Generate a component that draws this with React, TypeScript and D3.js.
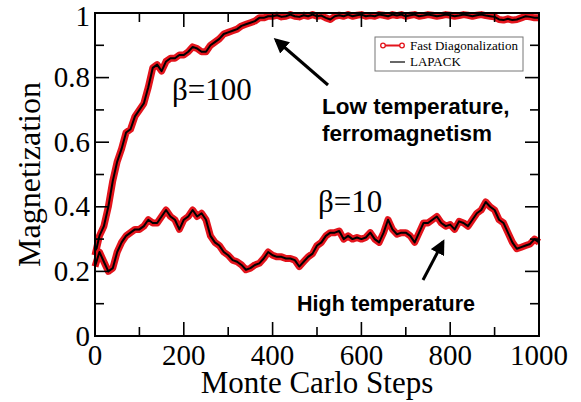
import React from 'react';
import * as d3 from 'd3';

// Monte Carlo steps (sampled every 10 steps)
const steps: number[] = d3.range(0, 1001, 10);

// beta = 100 (low temperature) magnetization
const beta100: number[] = [
  0.25, 0.31, 0.34, 0.40, 0.48, 0.54, 0.58, 0.63, 0.64, 0.68,
  0.70, 0.72, 0.77, 0.83, 0.84, 0.82, 0.85, 0.86, 0.86, 0.87,
  0.87, 0.88, 0.895, 0.89, 0.88, 0.88, 0.90, 0.91, 0.92, 0.935,
  0.94, 0.945, 0.95, 0.96, 0.965, 0.97, 0.975, 0.985, 0.985, 0.99,
  0.99, 0.993, 0.988, 0.99, 0.995, 0.99, 0.988, 0.993, 0.99, 0.995,
  0.99, 0.992, 0.985, 0.98, 0.99, 0.993, 0.99, 0.995, 0.99, 0.993,
  0.995, 0.99, 0.992, 0.99, 0.995, 0.993, 0.99, 0.995, 0.992, 0.995,
  0.99, 0.993, 0.995, 0.99, 0.992, 0.995, 0.993, 0.99, 0.992, 0.995,
  0.993, 0.99, 0.992, 0.995, 0.993, 0.99, 0.993, 0.995, 0.992, 0.99,
  0.988, 0.98, 0.978, 0.982, 0.978, 0.98, 0.985, 0.99, 0.988, 0.985,
  0.985,
];

// beta = 10 (high temperature) magnetization
const beta10: number[] = [
  0.215, 0.26, 0.23, 0.20, 0.21, 0.26, 0.29, 0.31, 0.32, 0.33,
  0.33, 0.34, 0.36, 0.35, 0.35, 0.37, 0.39, 0.37, 0.36, 0.33,
  0.36, 0.37, 0.39, 0.37, 0.38, 0.36, 0.31, 0.29, 0.28, 0.26,
  0.25, 0.235, 0.23, 0.22, 0.205, 0.21, 0.22, 0.225, 0.24, 0.26,
  0.25, 0.245, 0.245, 0.24, 0.24, 0.235, 0.215, 0.23, 0.245, 0.255,
  0.28, 0.29, 0.31, 0.32, 0.32, 0.325, 0.30, 0.31, 0.30, 0.305,
  0.30, 0.305, 0.32, 0.30, 0.29, 0.32, 0.36, 0.33, 0.315, 0.32,
  0.32, 0.31, 0.29, 0.32, 0.35, 0.35, 0.36, 0.37, 0.35, 0.34,
  0.345, 0.33, 0.355, 0.35, 0.34, 0.36, 0.38, 0.39, 0.415, 0.40,
  0.39, 0.36, 0.35, 0.32, 0.29, 0.27, 0.275, 0.28, 0.285, 0.30,
  0.29,
];

const xTickLabels = ['0', '200', '400', '600', '800', '1000'];
const yTickLabels = ['0', '0.2', '0.4', '0.6', '0.8', '1'];
const legendLabels = ['Fast Diagonalization', 'LAPACK'];

const W = 581;
const H = 402;
const serif = 'Liberation Serif, Times New Roman, serif';
const sans = 'Liberation Sans, Arial, sans-serif';

export default function App() {
  const x = d3.scaleLinear().domain([0, 1000]).range([95, 539]);
  const y = d3.scaleLinear().domain([0, 1]).range([336, 13]);
  const line = d3
    .line<number>()
    .x((_, i) => x(steps[i]))
    .y((d) => y(d));

  const xTicks = x.ticks(10);
  const yTicks = y.ticks(10);
  const major = 14;
  const minor = 9;

  const series = [beta100, beta10];

  return (
    <div style={{ position: 'fixed', left: 0, top: 0 }}>
      <svg width={W} height={H} style={{ display: 'block', background: '#fff' }}>
        <defs>
          <marker id="ah" viewBox="0 0 10 10" refX="8" refY="5" markerWidth="5" markerHeight="5" orient="auto">
            <path d="M0,0 L10,5 L0,10 z" fill="#000" />
          </marker>
        </defs>
        {/* data */}
        {series.map((s, k) => (
          <g key={k}>
            <path d={line(s) || ''} fill="none" stroke="#e3141c" strokeWidth={7} strokeLinejoin="round" />
            <path d={line(s) || ''} fill="none" stroke="#000" strokeWidth={2} strokeLinejoin="round" />
          </g>
        ))}
        {/* frame */}
        <rect x={x(0)} y={y(1)} width={x(1000) - x(0)} height={y(0) - y(1)} fill="none" stroke="#000" strokeWidth={2} />
        {/* ticks */}
        {xTicks.map((t, i) => {
          const len = i % 2 === 0 ? major : minor;
          return (
            <g key={'xt' + t}>
              <line x1={x(t)} x2={x(t)} y1={y(0)} y2={y(0) - len} stroke="#000" strokeWidth={1.6} />
              <line x1={x(t)} x2={x(t)} y1={y(1)} y2={y(1) + len} stroke="#000" strokeWidth={1.6} />
            </g>
          );
        })}
        {yTicks.map((t, i) => {
          const len = i % 2 === 0 ? major : minor;
          return (
            <g key={'yt' + t}>
              <line x1={x(0)} x2={x(0) + len} y1={y(t)} y2={y(t)} stroke="#000" strokeWidth={1.6} />
              <line x1={x(1000)} x2={x(1000) - len} y1={y(t)} y2={y(t)} stroke="#000" strokeWidth={1.6} />
            </g>
          );
        })}
        {/* tick labels */}
        {xTickLabels.map((lab) => (
          <text key={'xl' + lab} x={x(+lab)} y={365} textAnchor="middle" fontFamily={serif} fontSize={29}>
            {lab}
          </text>
        ))}
        {yTickLabels.map((lab) => (
          <text key={'yl' + lab} x={90} y={Math.max(y(+lab), 16)} dy="0.33em" textAnchor="end" fontFamily={serif} fontSize={29}>
            {lab}
          </text>
        ))}
        {/* axis titles */}
        <text x={(x(0) + x(1000)) / 2} y={393} textAnchor="middle" fontFamily={serif} fontSize={31}>
          Monte Carlo Steps
        </text>
        <text transform={`translate(40,${(y(0) + y(1)) / 2}) rotate(-90)`} textAnchor="middle" fontFamily={serif} fontSize={32}>
          Magnetization
        </text>
        {/* legend */}
        <rect x={375} y={37} width={148} height={34} fill="#fff" stroke="#777" strokeWidth={1} />
        <line x1={382} x2={403} y1={45.5} y2={45.5} stroke="#e3141c" strokeWidth={2} />
        <circle cx={383} cy={45.5} r={2.3} fill="#fff" stroke="#e3141c" strokeWidth={1.3} />
        <circle cx={402} cy={45.5} r={2.3} fill="#fff" stroke="#e3141c" strokeWidth={1.3} />
        <text x={410} y={50} fontFamily={serif} fontSize={13}>{legendLabels[0]}</text>
        <line x1={390} x2={405} y1={62} y2={62} stroke="#000" strokeWidth={1.2} />
        <text x={410} y={66} fontFamily={serif} fontSize={13}>{legendLabels[1]}</text>
        {/* annotations */}
        <text x={172} y={100} fontFamily={serif} fontSize={31}>β=100</text>
        <text x={318} y={212} fontFamily={serif} fontSize={31}>β=10</text>
        <text x={322} y={114} fontFamily={sans} fontWeight="bold" fontSize={22.5}>Low temperature,</text>
        <text x={322} y={141} fontFamily={sans} fontWeight="bold" fontSize={22.5}>ferromagnetism</text>
        <text x={297} y={311} fontFamily={sans} fontWeight="bold" fontSize={21.5}>High temperature</text>
        <line x1={328} y1={85} x2={276} y2={40} stroke="#000" strokeWidth={3} markerEnd="url(#ah)" />
        <line x1={423} y1={280} x2={443} y2={242} stroke="#000" strokeWidth={3} markerEnd="url(#ah)" />
      </svg>
    </div>
  );
}
